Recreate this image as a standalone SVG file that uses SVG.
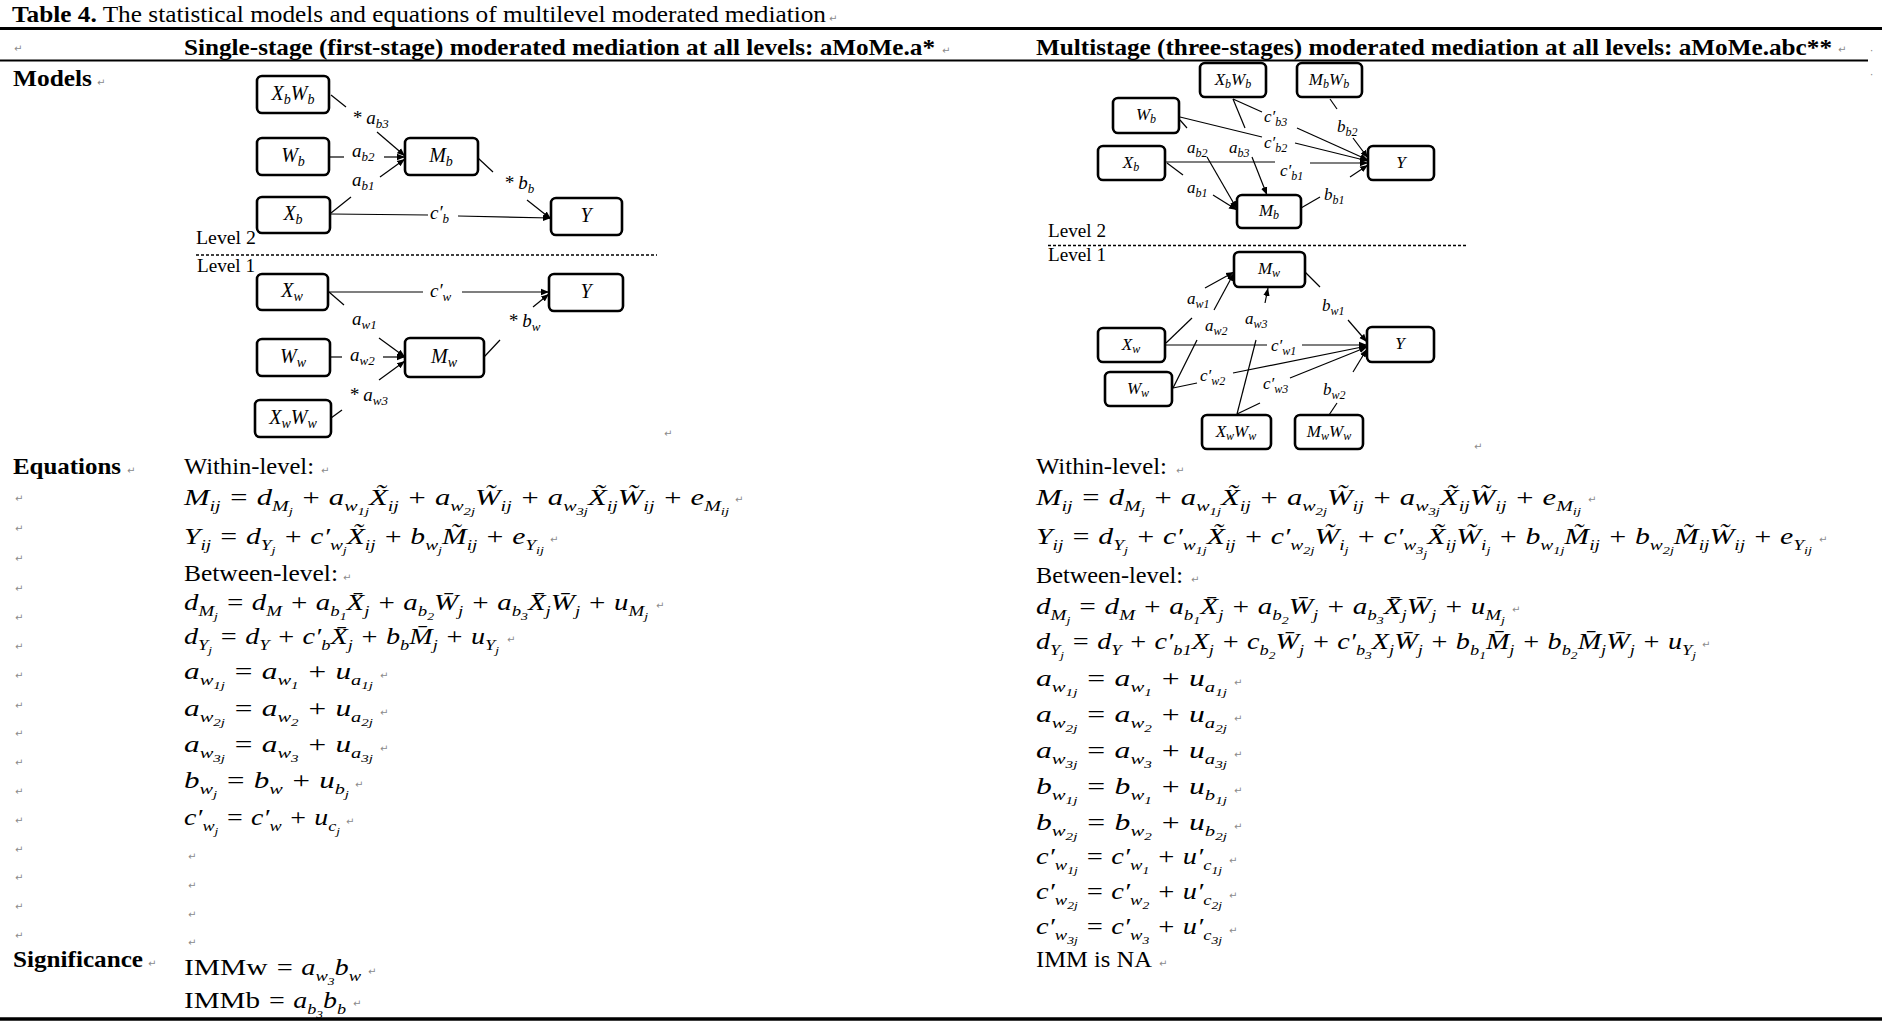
<svg xmlns="http://www.w3.org/2000/svg" width="1882" height="1030" viewBox="0 0 1882 1030">
<style>
.t{font-family:"Liberation Serif","Times New Roman",serif;font-size:24px;fill:#000}
.b{font-weight:bold}
.eq{font-family:"Liberation Serif","DejaVu Serif",serif;font-style:italic;font-size:23px;fill:#000}
.s{font-size:15px}
.ss{font-size:11px}
.pm{font-family:"DejaVu Sans",sans-serif;font-size:10px;fill:#8a8a8a;font-style:normal;font-weight:normal}
.box{fill:#fff;stroke:#000;stroke-width:2.6}
.bl{font-family:"Liberation Serif","DejaVu Serif",serif;font-style:italic;font-size:20px}
.bl2{font-family:"Liberation Serif","DejaVu Serif",serif;font-style:italic;font-size:17px}
.bs{font-size:14px}
.bs2{font-size:12px}
.lb{font-family:"Liberation Serif","DejaVu Serif",serif;font-style:italic;font-size:19px}
.lb2{font-family:"Liberation Serif","DejaVu Serif",serif;font-style:italic;font-size:17px}
.ls{font-size:13px}
.ls2{font-size:12px}
.lv{font-family:"Liberation Serif",serif;font-size:18px}
.ln{stroke:#000;stroke-width:1.2;fill:none}
.ar{stroke:#000;stroke-width:1.2;fill:none;marker-end:url(#ah)}
.dash{stroke:#000;stroke-width:1.3;stroke-dasharray:3 2;fill:none}
.rule{stroke:#000;fill:none}
</style>
<defs>
<marker id="ah" viewBox="0 0 10 10" refX="10" refY="5" markerWidth="8" markerHeight="8" markerUnits="userSpaceOnUse" orient="auto"><path d="M0,1 L10,5 L0,9 z" fill="#000"/></marker>
</defs>
<rect width="1882" height="1030" fill="#fff"/>

<g id="table-frame">
<text class="t" x="12" y="22" textLength="814" lengthAdjust="spacingAndGlyphs"><tspan class="b">Table 4.</tspan> The statistical models and equations of multilevel moderated mediation</text>
<text class="pm" x="829" y="22">↵</text>
<line class="rule" x1="0" y1="28.5" x2="1882" y2="28.5" stroke-width="3"/>
<text class="pm" x="14" y="52">↵</text>
<text class="t b" x="184" y="55" font-size="25" textLength="751" lengthAdjust="spacingAndGlyphs">Single-stage (first-stage) moderated mediation at all levels: aMoMe.a*</text>
<text class="pm" x="942" y="54">↵</text>
<text class="t b" x="1036" y="55" font-size="25" textLength="796" lengthAdjust="spacingAndGlyphs">Multistage (three-stages) moderated mediation at all levels: aMoMe.abc**</text>
<text class="pm" x="1838" y="53">↵</text>
<text class="pm" x="1870" y="54">·</text>
<line class="rule" x1="0" y1="60.5" x2="1868" y2="60.5" stroke-width="2"/>
<text class="pm" x="1870" y="78">·</text>
<line class="rule" x1="0" y1="1019" x2="1882" y2="1019" stroke-width="3.5"/>
</g>

<g id="row-labels">
<text class="t b" x="13" y="86" font-size="25" textLength="79" lengthAdjust="spacingAndGlyphs">Models</text>
<text class="pm" x="97" y="86">↵</text>
<text class="t b" x="13" y="474" font-size="25" textLength="108" lengthAdjust="spacingAndGlyphs">Equations</text>
<text class="pm" x="127" y="474">↵</text>
<text class="t b" x="13" y="967" font-size="25" textLength="130" lengthAdjust="spacingAndGlyphs">Significance</text>
<text class="pm" x="148" y="967">↵</text>
<text class="pm" x="15" y="502">↵</text>
<text class="pm" x="15" y="532">↵</text>
<text class="pm" x="15" y="562">↵</text>
<text class="pm" x="15" y="592">↵</text>
<text class="pm" x="15" y="621">↵</text>
<text class="pm" x="15" y="650">↵</text>
<text class="pm" x="15" y="679">↵</text>
<text class="pm" x="15" y="709">↵</text>
<text class="pm" x="15" y="737">↵</text>
<text class="pm" x="15" y="766">↵</text>
<text class="pm" x="15" y="795">↵</text>
<text class="pm" x="15" y="824">↵</text>
<text class="pm" x="15" y="853">↵</text>
<text class="pm" x="15" y="881">↵</text>
<text class="pm" x="15" y="910">↵</text>
<text class="pm" x="15" y="939">↵</text>
</g>

<!-- LEFT DIAGRAM -->
<g id="left-levels">
<text class="lv" x="196" y="244" textLength="60" lengthAdjust="spacingAndGlyphs">Level 2</text>
<line class="dash" x1="196" y1="255" x2="657" y2="255"/>
<text class="lv" x="197" y="272" textLength="58" lengthAdjust="spacingAndGlyphs">Level 1</text>
<text class="pm" x="664" y="437">↵</text>
</g>

<g id="left-connectors">
<line class="ln" x1="331" y1="95" x2="346" y2="107"/>
<line class="ar" x1="377" y1="132" x2="405" y2="156"/>
<line class="ln" x1="330" y1="157" x2="344" y2="157"/>
<line class="ar" x1="384" y1="157" x2="405" y2="157"/>
<line class="ln" x1="331" y1="213" x2="351" y2="197"/>
<line class="ar" x1="380" y1="177" x2="405" y2="159"/>
<line class="ln" x1="331" y1="214" x2="428" y2="215"/>
<line class="ar" x1="458" y1="216" x2="551" y2="218"/>
<line class="ln" x1="478" y1="158" x2="493" y2="172"/>
<line class="ar" x1="527" y1="200" x2="551" y2="219"/>
<line class="ln" x1="329" y1="292" x2="423" y2="292"/>
<line class="ar" x1="462" y1="292" x2="549" y2="292"/>
<line class="ln" x1="329" y1="292" x2="344" y2="305"/>
<line class="ar" x1="379" y1="338" x2="405" y2="357"/>
<line class="ln" x1="330" y1="357" x2="342" y2="357"/>
<line class="ar" x1="383" y1="357" x2="405" y2="357"/>
<line class="ln" x1="331" y1="418" x2="342" y2="410"/>
<line class="ar" x1="379" y1="380" x2="405" y2="361"/>
<line class="ln" x1="484" y1="357" x2="500" y2="340"/>
<line class="ar" x1="533" y1="307" x2="549" y2="294"/>
<text class="lb" x="352" y="124">* a<tspan class="ls" dy="4">b3</tspan></text>
<text class="lb" x="352" y="157">a<tspan class="ls" dy="4">b2</tspan></text>
<text class="lb" x="352" y="186">a<tspan class="ls" dy="4">b1</tspan></text>
<text class="lb" x="504" y="189">* b<tspan class="ls" dy="4">b</tspan></text>
<text class="lb" x="430" y="219">c′<tspan class="ls" dy="4">b</tspan></text>
<text class="lb" x="430" y="297">c′<tspan class="ls" dy="4">w</tspan></text>
<text class="lb" x="352" y="325">a<tspan class="ls" dy="4">w1</tspan></text>
<text class="lb" x="350" y="361">a<tspan class="ls" dy="4">w2</tspan></text>
<text class="lb" x="349" y="401">* a<tspan class="ls" dy="4">w3</tspan></text>
<text class="lb" x="508" y="327">* b<tspan class="ls" dy="4">w</tspan></text>
</g>

<g id="L-XbWb"><rect class="box" x="257" y="76" width="72" height="37" rx="5"/><text class="bl" x="293" y="100" text-anchor="middle">X<tspan class="bs" dy="4">b</tspan><tspan dy="-4">W</tspan><tspan class="bs" dy="4">b</tspan></text></g>
<g id="L-Wb"><rect class="box" x="257" y="138" width="72" height="37" rx="5"/><text class="bl" x="293" y="162" text-anchor="middle">W<tspan class="bs" dy="4">b</tspan></text></g>
<g id="L-Mb"><rect class="box" x="405" y="138" width="73" height="37" rx="5"/><text class="bl" x="441" y="162" text-anchor="middle">M<tspan class="bs" dy="4">b</tspan></text></g>
<g id="L-Xb"><rect class="box" x="257" y="197" width="73" height="36" rx="5"/><text class="bl" x="293" y="220" text-anchor="middle">X<tspan class="bs" dy="4">b</tspan></text></g>
<g id="L-Yb"><rect class="box" x="551" y="198" width="71" height="37" rx="5"/><text class="bl" x="586" y="222" text-anchor="middle">Y</text></g>
<g id="L-Xw"><rect class="box" x="257" y="274" width="71" height="36" rx="5"/><text class="bl" x="292" y="297" text-anchor="middle">X<tspan class="bs" dy="4">w</tspan></text></g>
<g id="L-Yw"><rect class="box" x="549" y="274" width="74" height="37" rx="5"/><text class="bl" x="586" y="298" text-anchor="middle">Y</text></g>
<g id="L-Ww"><rect class="box" x="257" y="339" width="73" height="37" rx="5"/><text class="bl" x="293" y="363" text-anchor="middle">W<tspan class="bs" dy="4">w</tspan></text></g>
<g id="L-Mw"><rect class="box" x="405" y="338" width="79" height="39" rx="5"/><text class="bl" x="444" y="363" text-anchor="middle">M<tspan class="bs" dy="4">w</tspan></text></g>
<g id="L-XwWw"><rect class="box" x="255" y="400" width="76" height="37" rx="5"/><text class="bl" x="293" y="424" text-anchor="middle">X<tspan class="bs" dy="4">w</tspan><tspan dy="-4">W</tspan><tspan class="bs" dy="4">w</tspan></text></g>

<!-- RIGHT DIAGRAM -->
<g id="right-levels">
<text class="lv" x="1048" y="237" textLength="58" lengthAdjust="spacingAndGlyphs">Level 2</text>
<line class="dash" x1="1048" y1="245.5" x2="1467" y2="245.5"/>
<text class="lv" x="1048" y="261" textLength="58" lengthAdjust="spacingAndGlyphs">Level 1</text>
<text class="pm" x="1474" y="450">↵</text>
</g>

<g id="right-connectors">
<line class="ln" x1="1165" y1="162" x2="1275" y2="162"/>
<line class="ar" x1="1310" y1="163" x2="1368" y2="163"/>
<line class="ln" x1="1180" y1="117" x2="1262" y2="137"/>
<line class="ar" x1="1295" y1="143" x2="1368" y2="161"/>
<line class="ln" x1="1233" y1="99" x2="1262" y2="112"/>
<line class="ar" x1="1297" y1="128" x2="1368" y2="160"/>
<line class="ln" x1="1330" y1="99" x2="1337" y2="109"/>
<line class="ar" x1="1353" y1="138" x2="1368" y2="158"/>
<line class="ln" x1="1301" y1="208" x2="1320" y2="197"/>
<line class="ar" x1="1350" y1="177" x2="1368" y2="165"/>
<line class="ln" x1="1167" y1="163" x2="1183" y2="175"/>
<line class="ar" x1="1213" y1="195" x2="1237" y2="210"/>
<line class="ln" x1="1180" y1="120" x2="1187" y2="128"/>
<line class="ar" x1="1207" y1="157" x2="1237" y2="209"/>
<line class="ln" x1="1233" y1="99" x2="1245" y2="128"/>
<line class="ar" x1="1252" y1="157" x2="1267" y2="195"/>
<line class="ln" x1="1166" y1="343" x2="1192" y2="318"/>
<line class="ar" x1="1205" y1="288" x2="1234" y2="272"/>
<line class="ln" x1="1173" y1="388" x2="1197" y2="340"/>
<line class="ar" x1="1214" y1="310" x2="1234" y2="273"/>
<line class="ln" x1="1237" y1="414" x2="1256" y2="340"/>
<line class="ar" x1="1265" y1="303" x2="1268" y2="288"/>
<line class="ln" x1="1305" y1="272" x2="1320" y2="287"/>
<line class="ar" x1="1348" y1="320" x2="1367" y2="342"/>
<line class="ln" x1="1166" y1="345" x2="1267" y2="345"/>
<line class="ar" x1="1302" y1="345" x2="1367" y2="345"/>
<line class="ln" x1="1173" y1="388" x2="1197" y2="383"/>
<line class="ar" x1="1233" y1="373" x2="1367" y2="346"/>
<line class="ln" x1="1237" y1="414" x2="1260" y2="403"/>
<line class="ar" x1="1290" y1="378" x2="1367" y2="347"/>
<line class="ln" x1="1329" y1="415" x2="1337" y2="403"/>
<line class="ar" x1="1353" y1="372" x2="1367" y2="349"/>
<text class="lb2" x="1264" y="122">c′<tspan class="ls2" dy="4">b3</tspan></text>
<text class="lb2" x="1264" y="148">c′<tspan class="ls2" dy="4">b2</tspan></text>
<text class="lb2" x="1280" y="176">c′<tspan class="ls2" dy="4">b1</tspan></text>
<text class="lb2" x="1337" y="132">b<tspan class="ls2" dy="4">b2</tspan></text>
<text class="lb2" x="1324" y="200">b<tspan class="ls2" dy="4">b1</tspan></text>
<text class="lb2" x="1187" y="193">a<tspan class="ls2" dy="4">b1</tspan></text>
<text class="lb2" x="1187" y="153">a<tspan class="ls2" dy="4">b2</tspan></text>
<text class="lb2" x="1229" y="153">a<tspan class="ls2" dy="4">b3</tspan></text>
<text class="lb2" x="1187" y="304">a<tspan class="ls2" dy="4">w1</tspan></text>
<text class="lb2" x="1205" y="331">a<tspan class="ls2" dy="4">w2</tspan></text>
<text class="lb2" x="1245" y="324">a<tspan class="ls2" dy="4">w3</tspan></text>
<text class="lb2" x="1322" y="311">b<tspan class="ls2" dy="4">w1</tspan></text>
<text class="lb2" x="1271" y="351">c′<tspan class="ls2" dy="4">w1</tspan></text>
<text class="lb2" x="1200" y="381">c′<tspan class="ls2" dy="4">w2</tspan></text>
<text class="lb2" x="1263" y="389">c′<tspan class="ls2" dy="4">w3</tspan></text>
<text class="lb2" x="1323" y="395">b<tspan class="ls2" dy="4">w2</tspan></text>
</g>

<g id="R-XbWb"><rect class="box" x="1200" y="63" width="66" height="34" rx="5"/><text class="bl2" x="1233" y="85" text-anchor="middle">X<tspan class="bs2" dy="3">b</tspan><tspan dy="-3">W</tspan><tspan class="bs2" dy="3">b</tspan></text></g>
<g id="R-MbWb"><rect class="box" x="1297" y="63" width="65" height="34" rx="5"/><text class="bl2" x="1329" y="85" text-anchor="middle">M<tspan class="bs2" dy="3">b</tspan><tspan dy="-3">W</tspan><tspan class="bs2" dy="3">b</tspan></text></g>
<g id="R-Wb"><rect class="box" x="1113" y="98" width="66" height="35" rx="5"/><text class="bl2" x="1146" y="120" text-anchor="middle">W<tspan class="bs2" dy="3">b</tspan></text></g>
<g id="R-Xb"><rect class="box" x="1098" y="146" width="67" height="34" rx="5"/><text class="bl2" x="1131" y="168" text-anchor="middle">X<tspan class="bs2" dy="3">b</tspan></text></g>
<g id="R-Yb"><rect class="box" x="1368" y="146" width="66" height="34" rx="5"/><text class="bl2" x="1401" y="168" text-anchor="middle">Y</text></g>
<g id="R-Mb"><rect class="box" x="1237" y="195" width="64" height="33" rx="5"/><text class="bl2" x="1269" y="216" text-anchor="middle">M<tspan class="bs2" dy="3">b</tspan></text></g>
<g id="R-Mw"><rect class="box" x="1234" y="252" width="71" height="35" rx="5"/><text class="bl2" x="1269" y="274" text-anchor="middle">M<tspan class="bs2" dy="3">w</tspan></text></g>
<g id="R-Xw"><rect class="box" x="1098" y="328" width="67" height="34" rx="5"/><text class="bl2" x="1131" y="350" text-anchor="middle">X<tspan class="bs2" dy="3">w</tspan></text></g>
<g id="R-Yw"><rect class="box" x="1367" y="327" width="67" height="35" rx="5"/><text class="bl2" x="1400" y="349" text-anchor="middle">Y</text></g>
<g id="R-Ww"><rect class="box" x="1105" y="372" width="67" height="34" rx="5"/><text class="bl2" x="1138" y="394" text-anchor="middle">W<tspan class="bs2" dy="3">w</tspan></text></g>
<g id="R-XwWw"><rect class="box" x="1202" y="415" width="69" height="34" rx="5"/><text class="bl2" x="1236" y="437" text-anchor="middle">X<tspan class="bs2" dy="3">w</tspan><tspan dy="-3">W</tspan><tspan class="bs2" dy="3">w</tspan></text></g>
<g id="R-MwWw"><rect class="box" x="1295" y="415" width="68" height="34" rx="5"/><text class="bl2" x="1329" y="437" text-anchor="middle">M<tspan class="bs2" dy="3">w</tspan><tspan dy="-3">W</tspan><tspan class="bs2" dy="3">w</tspan></text></g>

<!-- LEFT EQUATIONS -->
<g id="left-equations">
<text class="t" x="184" y="474" textLength="130" lengthAdjust="spacingAndGlyphs">Within-level:</text>
<text class="pm" x="321" y="474">↵</text>
<text class="eq" x="184" y="505" textLength="545" lengthAdjust="spacingAndGlyphs">M<tspan class="s" dy="6">ij</tspan><tspan dy="-6"> = d</tspan><tspan class="s" dy="6">M</tspan><tspan class="ss" dy="4">j</tspan><tspan dy="-10"> + a</tspan><tspan class="s" dy="6">w</tspan><tspan class="ss" dy="4">1j</tspan><tspan dy="-10">X&#x303;</tspan><tspan class="s" dy="6">ij</tspan><tspan dy="-6"> + a</tspan><tspan class="s" dy="6">w</tspan><tspan class="ss" dy="4">2j</tspan><tspan dy="-10">W&#x303;</tspan><tspan class="s" dy="6">ij</tspan><tspan dy="-6"> + a</tspan><tspan class="s" dy="6">w</tspan><tspan class="ss" dy="4">3j</tspan><tspan dy="-10">X&#x303;</tspan><tspan class="s" dy="6">ij</tspan><tspan dy="-6">W&#x303;</tspan><tspan class="s" dy="6">ij</tspan><tspan dy="-6"> + e</tspan><tspan class="s" dy="6">M</tspan><tspan class="ss" dy="4">ij</tspan></text>
<text class="pm" x="735" y="503">↵</text>
<text class="eq" x="184" y="544" textLength="360" lengthAdjust="spacingAndGlyphs">Y<tspan class="s" dy="6">ij</tspan><tspan dy="-6"> = d</tspan><tspan class="s" dy="6">Y</tspan><tspan class="ss" dy="4">j</tspan><tspan dy="-10"> + c′</tspan><tspan class="s" dy="6">w</tspan><tspan class="ss" dy="4">j</tspan><tspan dy="-10">X&#x303;</tspan><tspan class="s" dy="6">ij</tspan><tspan dy="-6"> + b</tspan><tspan class="s" dy="6">w</tspan><tspan class="ss" dy="4">j</tspan><tspan dy="-10">M&#x303;</tspan><tspan class="s" dy="6">ij</tspan><tspan dy="-6"> + e</tspan><tspan class="s" dy="6">Y</tspan><tspan class="ss" dy="4">ij</tspan></text>
<text class="pm" x="550" y="543">↵</text>
<text class="t" x="184" y="581" textLength="154" lengthAdjust="spacingAndGlyphs">Between-level:</text>
<text class="pm" x="343" y="581">↵</text>
<text class="eq" x="184" y="610" textLength="464" lengthAdjust="spacingAndGlyphs">d<tspan class="s" dy="6">M</tspan><tspan class="ss" dy="4">j</tspan><tspan dy="-10"> = d</tspan><tspan class="s" dy="6">M</tspan><tspan dy="-6"> + a</tspan><tspan class="s" dy="6">b</tspan><tspan class="ss" dy="4">1</tspan><tspan dy="-10">X&#x304;</tspan><tspan class="s" dy="6">j</tspan><tspan dy="-6"> + a</tspan><tspan class="s" dy="6">b</tspan><tspan class="ss" dy="4">2</tspan><tspan dy="-10">W&#x304;</tspan><tspan class="s" dy="6">j</tspan><tspan dy="-6"> + a</tspan><tspan class="s" dy="6">b</tspan><tspan class="ss" dy="4">3</tspan><tspan dy="-10">X&#x304;</tspan><tspan class="s" dy="6">j</tspan><tspan dy="-6">W&#x304;</tspan><tspan class="s" dy="6">j</tspan><tspan dy="-6"> + u</tspan><tspan class="s" dy="6">M</tspan><tspan class="ss" dy="4">j</tspan></text>
<text class="pm" x="656" y="609">↵</text>
<text class="eq" x="184" y="644" textLength="315" lengthAdjust="spacingAndGlyphs">d<tspan class="s" dy="6">Y</tspan><tspan class="ss" dy="4">j</tspan><tspan dy="-10"> = d</tspan><tspan class="s" dy="6">Y</tspan><tspan dy="-6"> + c′</tspan><tspan class="s" dy="6">b</tspan><tspan dy="-6">X&#x304;</tspan><tspan class="s" dy="6">j</tspan><tspan dy="-6"> + b</tspan><tspan class="s" dy="6">b</tspan><tspan dy="-6">M&#x304;</tspan><tspan class="s" dy="6">j</tspan><tspan dy="-6"> + u</tspan><tspan class="s" dy="6">Y</tspan><tspan class="ss" dy="4">j</tspan></text>
<text class="pm" x="507" y="643">↵</text>
<text class="eq" x="184" y="679" textLength="189" lengthAdjust="spacingAndGlyphs">a<tspan class="s" dy="6">w</tspan><tspan class="ss" dy="4">1j</tspan><tspan dy="-10"> = a</tspan><tspan class="s" dy="6">w</tspan><tspan class="ss" dy="4">1</tspan><tspan dy="-10"> + u</tspan><tspan class="s" dy="6">a</tspan><tspan class="ss" dy="4">1j</tspan></text>
<text class="pm" x="380" y="679">↵</text>
<text class="eq" x="184" y="716" textLength="189" lengthAdjust="spacingAndGlyphs">a<tspan class="s" dy="6">w</tspan><tspan class="ss" dy="4">2j</tspan><tspan dy="-10"> = a</tspan><tspan class="s" dy="6">w</tspan><tspan class="ss" dy="4">2</tspan><tspan dy="-10"> + u</tspan><tspan class="s" dy="6">a</tspan><tspan class="ss" dy="4">2j</tspan></text>
<text class="pm" x="380" y="716">↵</text>
<text class="eq" x="184" y="752" textLength="189" lengthAdjust="spacingAndGlyphs">a<tspan class="s" dy="6">w</tspan><tspan class="ss" dy="4">3j</tspan><tspan dy="-10"> = a</tspan><tspan class="s" dy="6">w</tspan><tspan class="ss" dy="4">3</tspan><tspan dy="-10"> + u</tspan><tspan class="s" dy="6">a</tspan><tspan class="ss" dy="4">3j</tspan></text>
<text class="pm" x="380" y="752">↵</text>
<text class="eq" x="184" y="788" textLength="165" lengthAdjust="spacingAndGlyphs">b<tspan class="s" dy="6">w</tspan><tspan class="ss" dy="4">j</tspan><tspan dy="-10"> = b</tspan><tspan class="s" dy="6">w</tspan><tspan dy="-6"> + u</tspan><tspan class="s" dy="6">b</tspan><tspan class="ss" dy="4">j</tspan></text>
<text class="pm" x="355" y="788">↵</text>
<text class="eq" x="184" y="825" textLength="156" lengthAdjust="spacingAndGlyphs">c′<tspan class="s" dy="6">w</tspan><tspan class="ss" dy="4">j</tspan><tspan dy="-10"> = c′</tspan><tspan class="s" dy="6">w</tspan><tspan dy="-6"> + u</tspan><tspan class="s" dy="6">c</tspan><tspan class="ss" dy="4">j</tspan></text>
<text class="pm" x="346" y="825">↵</text>
<text class="pm" x="188" y="860">↵</text>
<text class="pm" x="188" y="889">↵</text>
<text class="pm" x="188" y="918">↵</text>
<text class="pm" x="188" y="946">↵</text>
</g>

<g id="left-significance">
<text x="184" y="975" textLength="177" lengthAdjust="spacingAndGlyphs"><tspan class="t">IMMw </tspan><tspan class="eq"> = a</tspan><tspan class="eq s" dy="6">w</tspan><tspan class="eq ss" dy="4">3</tspan><tspan class="eq" dy="-10">b</tspan><tspan class="eq s" dy="6">w</tspan></text>
<text class="pm" x="368" y="975">↵</text>
<text x="184" y="1008" textLength="162" lengthAdjust="spacingAndGlyphs"><tspan class="t">IMMb </tspan><tspan class="eq"> = a</tspan><tspan class="eq s" dy="6">b</tspan><tspan class="eq ss" dy="4">3</tspan><tspan class="eq" dy="-10">b</tspan><tspan class="eq s" dy="6">b</tspan></text>
<text class="pm" x="353" y="1007">↵</text>
</g>

<!-- RIGHT EQUATIONS -->
<g id="right-equations">
<text class="t" x="1036" y="474" textLength="131" lengthAdjust="spacingAndGlyphs">Within-level:</text>
<text class="pm" x="1176" y="474">↵</text>
<text class="eq" x="1036" y="505" textLength="545" lengthAdjust="spacingAndGlyphs">M<tspan class="s" dy="6">ij</tspan><tspan dy="-6"> = d</tspan><tspan class="s" dy="6">M</tspan><tspan class="ss" dy="4">j</tspan><tspan dy="-10"> + a</tspan><tspan class="s" dy="6">w</tspan><tspan class="ss" dy="4">1j</tspan><tspan dy="-10">X&#x303;</tspan><tspan class="s" dy="6">ij</tspan><tspan dy="-6"> + a</tspan><tspan class="s" dy="6">w</tspan><tspan class="ss" dy="4">2j</tspan><tspan dy="-10">W&#x303;</tspan><tspan class="s" dy="6">ij</tspan><tspan dy="-6"> + a</tspan><tspan class="s" dy="6">w</tspan><tspan class="ss" dy="4">3j</tspan><tspan dy="-10">X&#x303;</tspan><tspan class="s" dy="6">ij</tspan><tspan dy="-6">W&#x303;</tspan><tspan class="s" dy="6">ij</tspan><tspan dy="-6"> + e</tspan><tspan class="s" dy="6">M</tspan><tspan class="ss" dy="4">ij</tspan></text>
<text class="pm" x="1588" y="503">↵</text>
<text class="eq" x="1036" y="544" textLength="776" lengthAdjust="spacingAndGlyphs">Y<tspan class="s" dy="6">ij</tspan><tspan dy="-6"> = d</tspan><tspan class="s" dy="6">Y</tspan><tspan class="ss" dy="4">j</tspan><tspan dy="-10"> + c′</tspan><tspan class="s" dy="6">w</tspan><tspan class="ss" dy="4">1j</tspan><tspan dy="-10">X&#x303;</tspan><tspan class="s" dy="6">ij</tspan><tspan dy="-6"> + c′</tspan><tspan class="s" dy="6">w</tspan><tspan class="ss" dy="4">2j</tspan><tspan dy="-10">W&#x303;</tspan><tspan class="s" dy="6">i</tspan><tspan class="ss" dy="4">j</tspan><tspan dy="-10"> + c′</tspan><tspan class="s" dy="6">w</tspan><tspan class="ss" dy="4">3</tspan><tspan class="ss" dy="4">j</tspan><tspan dy="-14">X&#x303;</tspan><tspan class="s" dy="6">ij</tspan><tspan dy="-6">W&#x303;</tspan><tspan class="s" dy="6">i</tspan><tspan class="ss" dy="4">j</tspan><tspan dy="-10"> + b</tspan><tspan class="s" dy="6">w</tspan><tspan class="ss" dy="4">1j</tspan><tspan dy="-10">M&#x303;</tspan><tspan class="s" dy="6">ij</tspan><tspan dy="-6"> + b</tspan><tspan class="s" dy="6">w</tspan><tspan class="ss" dy="4">2j</tspan><tspan dy="-10">M&#x303;</tspan><tspan class="s" dy="6">ij</tspan><tspan dy="-6">W&#x303;</tspan><tspan class="s" dy="6">ij</tspan><tspan dy="-6"> + e</tspan><tspan class="s" dy="6">Y</tspan><tspan class="ss" dy="4">ij</tspan></text>
<text class="pm" x="1819" y="543">↵</text>
<text class="t" x="1036" y="583" textLength="147" lengthAdjust="spacingAndGlyphs">Between-level:</text>
<text class="pm" x="1191" y="583">↵</text>
<text class="eq" x="1036" y="614" textLength="469" lengthAdjust="spacingAndGlyphs">d<tspan class="s" dy="6">M</tspan><tspan class="ss" dy="4">j</tspan><tspan dy="-10"> = d</tspan><tspan class="s" dy="6">M</tspan><tspan dy="-6"> + a</tspan><tspan class="s" dy="6">b</tspan><tspan class="ss" dy="4">1</tspan><tspan dy="-10">X&#x304;</tspan><tspan class="s" dy="6">j</tspan><tspan dy="-6"> + a</tspan><tspan class="s" dy="6">b</tspan><tspan class="ss" dy="4">2</tspan><tspan dy="-10">W&#x304;</tspan><tspan class="s" dy="6">j</tspan><tspan dy="-6"> + a</tspan><tspan class="s" dy="6">b</tspan><tspan class="ss" dy="4">3</tspan><tspan dy="-10">X&#x304;</tspan><tspan class="s" dy="6">j</tspan><tspan dy="-6">W&#x304;</tspan><tspan class="s" dy="6">j</tspan><tspan dy="-6"> + u</tspan><tspan class="s" dy="6">M</tspan><tspan class="ss" dy="4">j</tspan></text>
<text class="pm" x="1512" y="613">↵</text>
<text class="eq" x="1036" y="649" textLength="660" lengthAdjust="spacingAndGlyphs">d<tspan class="s" dy="6">Y</tspan><tspan class="ss" dy="4">j</tspan><tspan dy="-10"> = d</tspan><tspan class="s" dy="6">Y</tspan><tspan dy="-6"> + c′</tspan><tspan class="s" dy="6">b1</tspan><tspan dy="-6">X</tspan><tspan class="s" dy="6">j</tspan><tspan dy="-6"> + c</tspan><tspan class="s" dy="6">b</tspan><tspan class="ss" dy="4">2</tspan><tspan dy="-10">W&#x304;</tspan><tspan class="s" dy="6">j</tspan><tspan dy="-6"> + c′</tspan><tspan class="s" dy="6">b</tspan><tspan class="ss" dy="4">3</tspan><tspan dy="-10">X</tspan><tspan class="s" dy="6">j</tspan><tspan dy="-6">W&#x304;</tspan><tspan class="s" dy="6">j</tspan><tspan dy="-6"> + b</tspan><tspan class="s" dy="6">b</tspan><tspan class="ss" dy="4">1</tspan><tspan dy="-10">M&#x304;</tspan><tspan class="s" dy="6">j</tspan><tspan dy="-6"> + b</tspan><tspan class="s" dy="6">b</tspan><tspan class="ss" dy="4">2</tspan><tspan dy="-10">M&#x304;</tspan><tspan class="s" dy="6">j</tspan><tspan dy="-6">W&#x304;</tspan><tspan class="s" dy="6">j</tspan><tspan dy="-6"> + u</tspan><tspan class="s" dy="6">Y</tspan><tspan class="ss" dy="4">j</tspan></text>
<text class="pm" x="1702" y="648">↵</text>
<text class="eq" x="1036" y="686" textLength="191" lengthAdjust="spacingAndGlyphs">a<tspan class="s" dy="6">w</tspan><tspan class="ss" dy="4">1j</tspan><tspan dy="-10"> = a</tspan><tspan class="s" dy="6">w</tspan><tspan class="ss" dy="4">1</tspan><tspan dy="-10"> + u</tspan><tspan class="s" dy="6">a</tspan><tspan class="ss" dy="4">1j</tspan></text>
<text class="pm" x="1234" y="686">↵</text>
<text class="eq" x="1036" y="722" textLength="191" lengthAdjust="spacingAndGlyphs">a<tspan class="s" dy="6">w</tspan><tspan class="ss" dy="4">2j</tspan><tspan dy="-10"> = a</tspan><tspan class="s" dy="6">w</tspan><tspan class="ss" dy="4">2</tspan><tspan dy="-10"> + u</tspan><tspan class="s" dy="6">a</tspan><tspan class="ss" dy="4">2j</tspan></text>
<text class="pm" x="1234" y="722">↵</text>
<text class="eq" x="1036" y="758" textLength="191" lengthAdjust="spacingAndGlyphs">a<tspan class="s" dy="6">w</tspan><tspan class="ss" dy="4">3j</tspan><tspan dy="-10"> = a</tspan><tspan class="s" dy="6">w</tspan><tspan class="ss" dy="4">3</tspan><tspan dy="-10"> + u</tspan><tspan class="s" dy="6">a</tspan><tspan class="ss" dy="4">3j</tspan></text>
<text class="pm" x="1234" y="758">↵</text>
<text class="eq" x="1036" y="794" textLength="191" lengthAdjust="spacingAndGlyphs">b<tspan class="s" dy="6">w</tspan><tspan class="ss" dy="4">1j</tspan><tspan dy="-10"> = b</tspan><tspan class="s" dy="6">w</tspan><tspan class="ss" dy="4">1</tspan><tspan dy="-10"> + u</tspan><tspan class="s" dy="6">b</tspan><tspan class="ss" dy="4">1j</tspan></text>
<text class="pm" x="1234" y="794">↵</text>
<text class="eq" x="1036" y="830" textLength="191" lengthAdjust="spacingAndGlyphs">b<tspan class="s" dy="6">w</tspan><tspan class="ss" dy="4">2j</tspan><tspan dy="-10"> = b</tspan><tspan class="s" dy="6">w</tspan><tspan class="ss" dy="4">2</tspan><tspan dy="-10"> + u</tspan><tspan class="s" dy="6">b</tspan><tspan class="ss" dy="4">2j</tspan></text>
<text class="pm" x="1234" y="830">↵</text>
<text class="eq" x="1036" y="864" textLength="186" lengthAdjust="spacingAndGlyphs">c′<tspan class="s" dy="6">w</tspan><tspan class="ss" dy="4">1j</tspan><tspan dy="-10"> = c′</tspan><tspan class="s" dy="6">w</tspan><tspan class="ss" dy="4">1</tspan><tspan dy="-10"> + u′</tspan><tspan class="s" dy="6">c</tspan><tspan class="ss" dy="4">1j</tspan></text>
<text class="pm" x="1229" y="864">↵</text>
<text class="eq" x="1036" y="899" textLength="186" lengthAdjust="spacingAndGlyphs">c′<tspan class="s" dy="6">w</tspan><tspan class="ss" dy="4">2j</tspan><tspan dy="-10"> = c′</tspan><tspan class="s" dy="6">w</tspan><tspan class="ss" dy="4">2</tspan><tspan dy="-10"> + u′</tspan><tspan class="s" dy="6">c</tspan><tspan class="ss" dy="4">2j</tspan></text>
<text class="pm" x="1229" y="899">↵</text>
<text class="eq" x="1036" y="934" textLength="186" lengthAdjust="spacingAndGlyphs">c′<tspan class="s" dy="6">w</tspan><tspan class="ss" dy="4">3j</tspan><tspan dy="-10"> = c′</tspan><tspan class="s" dy="6">w</tspan><tspan class="ss" dy="4">3</tspan><tspan dy="-10"> + u′</tspan><tspan class="s" dy="6">c</tspan><tspan class="ss" dy="4">3j</tspan></text>
<text class="pm" x="1229" y="934">↵</text>
<text class="t" x="1036" y="967" textLength="116" lengthAdjust="spacingAndGlyphs">IMM is NA</text>
<text class="pm" x="1159" y="967">↵</text>
</g>
</svg>
